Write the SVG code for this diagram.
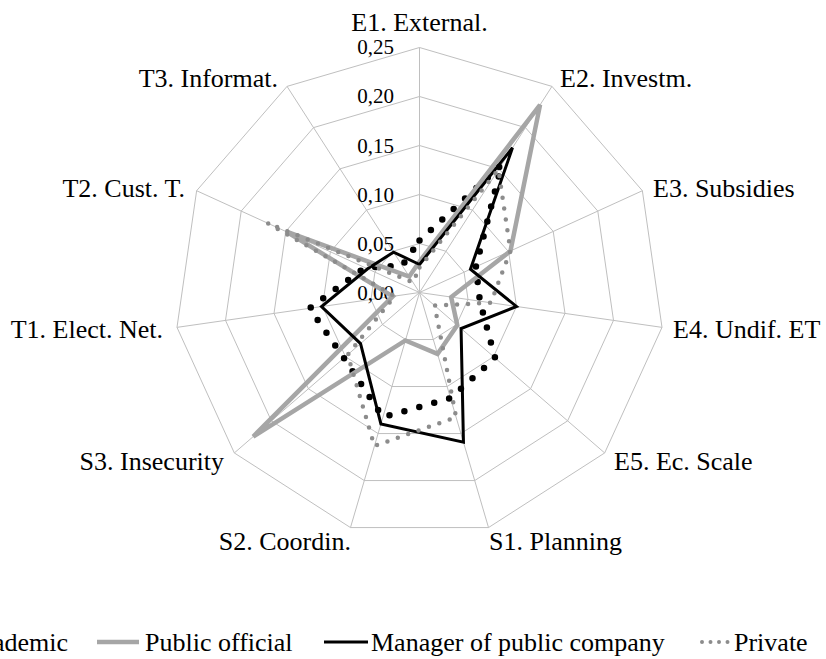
<svg xmlns="http://www.w3.org/2000/svg" width="826" height="659" viewBox="0 0 826 659">
<style>
text{font-family:"Liberation Serif","Times New Roman",serif}
.t{font-size:26px;fill:#000}
.tk{font-size:21px;fill:#000;text-anchor:end}
.grid{fill:none;stroke:#bfbfbf;stroke-width:1}
.acad{fill:none;stroke:#000;stroke-width:6.5;stroke-linecap:round;stroke-linejoin:round;stroke-dasharray:0 15.5}
.pub{fill:none;stroke:#a6a6a6;stroke-width:4.5;stroke-linejoin:miter}
.man{fill:none;stroke:#000;stroke-width:3;stroke-linejoin:miter}
.priv{fill:none;stroke:#8c8c8c;stroke-width:4.5;stroke-linecap:round;stroke-linejoin:round;stroke-dasharray:0 11}
</style>
<rect width="826" height="659" fill="#fff"/>
<g id="grid" transform="translate(419.5,292.5)">
<polygon class="grid" points="0,-245 132.46,-206.11 222.86,-101.78 242.51,34.87 185.16,160.44 69.02,235.07 -69.02,235.07 -185.16,160.44 -242.51,34.87 -222.86,-101.78 -132.46,-206.11"/>
<polygon class="grid" points="0,-196 105.97,-164.89 178.29,-81.42 194,27.89 148.13,128.35 55.22,188.06 -55.22,188.06 -148.13,128.35 -194,27.89 -178.29,-81.42 -105.97,-164.89"/>
<polygon class="grid" points="0,-147 79.47,-123.66 133.72,-61.07 145.5,20.92 111.1,96.26 41.41,141.05 -41.41,141.05 -111.1,96.26 -145.5,20.92 -133.72,-61.07 -79.47,-123.66"/>
<polygon class="grid" points="0,-98 52.98,-82.44 89.14,-40.71 97,13.95 74.06,64.18 27.61,94.03 -27.61,94.03 -74.06,64.18 -97,13.95 -89.14,-40.71 -52.98,-82.44"/>
<polygon class="grid" points="0,-49 26.49,-41.22 44.57,-20.36 48.5,6.97 37.03,32.09 13.8,47.02 -13.8,47.02 -37.03,32.09 -48.5,6.97 -44.57,-20.36 -26.49,-41.22"/>
<path class="grid" d="M0,0L0,-245M0,0L132.46,-206.11M0,0L222.86,-101.78M0,0L242.51,34.87M0,0L185.16,160.44M0,0L69.02,235.07M0,0L-69.02,235.07M0,0L-185.16,160.44M0,0L-242.51,34.87M0,0L-222.86,-101.78M0,0L-132.46,-206.11"/>
</g>
<g id="ticks">
<text class="tk" x="394" y="54">0,25</text>
<text class="tk" x="394" y="103">0,20</text>
<text class="tk" x="394" y="152.5">0,15</text>
<text class="tk" x="394" y="202">0,10</text>
<text class="tk" x="394" y="251">0,05</text>
<text class="tk" x="394" y="300">0,00</text>
</g>
<g id="connectors" transform="translate(419.5,292.5)">
<polygon id="academic" class="acad" points="0,-52 82.18,-127.87 56.4,-25.76 60.38,8.68 75.58,65.49 30.99,105.54 -36.62,124.73 -75.58,65.49 -109.87,15.8 -54.58,-24.93 -17.3,-26.92"/>
<polygon id="public-official" class="pub" points="0,-31 120.56,-187.6 90.96,-41.54 31.67,4.55 37.79,32.74 18.03,61.41 -14.09,47.97 -166.27,144.07 -26.73,3.84 -133.72,-61.07 -10.27,-15.98"/>
<polygon id="manager" class="man" points="0,-28 92.99,-144.7 50.94,-23.26 97,13.95 41.57,36.02 43.95,149.68 -38.6,131.45 -58.95,51.08 -97.99,14.09 -51.85,-23.68 -25.95,-40.38"/>
<polygon id="private" class="priv" points="0,-25 78.93,-122.82 90.96,-41.54 71.27,10.25 15.12,13.1 36.62,124.73 -45.08,153.52 -71.8,62.21 -24.75,3.56 -151.91,-69.38 -6.49,-10.1"/>
</g>
<g id="labels">
<g id="E1"><text class="t" x="419.5" y="31" text-anchor="middle">E1. External.</text></g>
<g id="E2"><text class="t" x="560" y="87">E2. Investm.</text></g>
<g id="E3"><text class="t" x="653" y="197">E3. Subsidies</text></g>
<g id="E4"><text class="t" x="673" y="338">E4. Undif. ET</text></g>
<g id="E5"><text class="t" x="614" y="470">E5. Ec. Scale</text></g>
<g id="S1"><text class="t" x="489" y="550">S1. Planning</text></g>
<g id="S2"><text class="t" x="351" y="550" text-anchor="end">S2. Coordin.</text></g>
<g id="S3"><text class="t" x="224" y="470" text-anchor="end">S3. Insecurity</text></g>
<g id="T1"><text class="t" x="163" y="338" text-anchor="end">T1. Elect. Net.</text></g>
<g id="T2"><text class="t" x="185" y="197" text-anchor="end">T2. Cust. T.</text></g>
<g id="T3"><text class="t" x="278" y="87" text-anchor="end">T3. Informat.</text></g>
</g>
<g id="legend">
<text class="t" x="68" y="651" text-anchor="end">Academic</text>
<line x1="97" y1="642" x2="139" y2="642" stroke="#a6a6a6" stroke-width="4.5"/>
<text class="t" x="145" y="651">Public official</text>
<line x1="324" y1="642" x2="368" y2="642" stroke="#000" stroke-width="3"/>
<text class="t" x="371" y="651">Manager of public company</text>
<line x1="702" y1="642" x2="729" y2="642" stroke="#8c8c8c" stroke-width="4" stroke-linecap="round" stroke-dasharray="0 8.5"/>
<text class="t" x="734" y="651">Private</text>
</g>
</svg>
